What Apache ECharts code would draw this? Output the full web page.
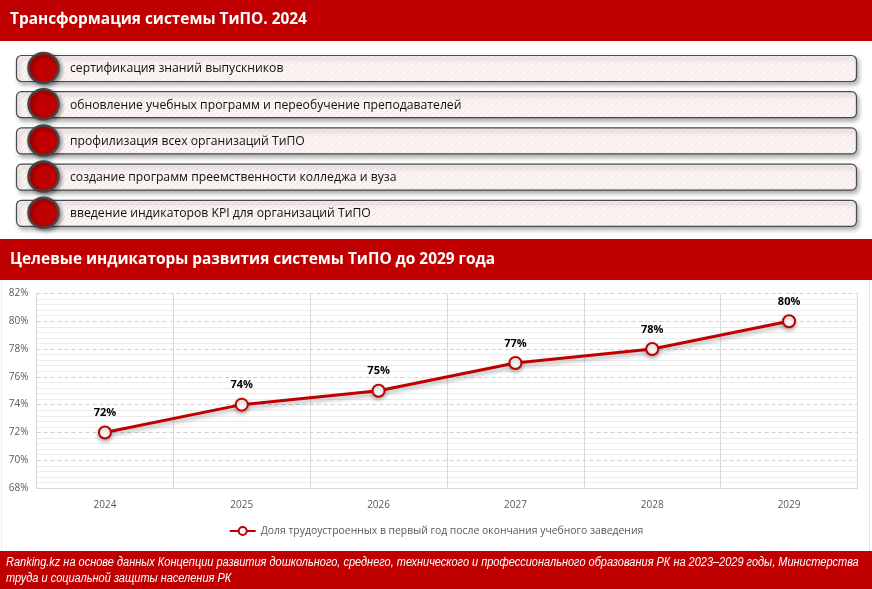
<!DOCTYPE html>
<html><head><meta charset="utf-8">
<script src="https://cdn.jsdelivr.net/npm/echarts@6/dist/echarts.min.js"></script>
<style>html,body{margin:0;padding:0;background:#fff}#c{width:872px;height:589px}</style>
</head><body><div id="c"></div>
<script>
const title1 = 'Трансформация системы ТиПО. 2024';
const title2 = 'Целевые индикаторы развития системы ТиПО до 2029 года';
const listItems = [
  'сертификация знаний выпускников',
  'обновление учебных программ и переобучение преподавателей',
  'профилизация всех организаций ТиПО',
  'создание программ преемственности колледжа и вуза',
  'введение индикаторов KPI для организаций ТиПО'
];
const years = ['2024', '2025', '2026', '2027', '2028', '2029'];
const values = [72, 74, 75, 77, 78, 80];
const seriesName = 'Доля трудоустроенных в первый год после окончания учебного заведения';
const sourceLines = [
  'Ranking.kz на основе данных Концепции развития дошкольного, среднего, технического и профессионального образования РК на 2023–2029 годы, Министерства',
  'труда и социальной защиты населения РК'
];

const RED = '#C00000';

// hatch pattern
const pc = document.createElement('canvas');
pc.width = 6; pc.height = 6;
const pctx = pc.getContext('2d');
pctx.fillStyle = '#fcf3f3';
pctx.fillRect(0, 0, 6, 6);
pctx.strokeStyle = '#f7e2e2';
pctx.lineWidth = 1;
pctx.beginPath();
pctx.moveTo(0, 6); pctx.lineTo(6, 0);
pctx.moveTo(-3, 3); pctx.lineTo(3, -3);
pctx.moveTo(3, 9); pctx.lineTo(9, 3);
pctx.stroke();

const graphics = [];
// headers
graphics.push({type: 'rect', shape: {x: 0, y: 0, width: 872, height: 41}, style: {fill: RED}, silent: true});
graphics.push({type: 'text', x: 10, y: 20, style: {text: title1, fill: '#fff', font: 'bold 15.4px "Open Sans", sans-serif', verticalAlign: 'middle'}});
graphics.push({type: 'rect', shape: {x: 0, y: 239, width: 872, height: 41}, style: {fill: RED}, silent: true});
graphics.push({type: 'text', x: 10, y: 260, style: {text: title2, fill: '#fff', font: 'bold 15.4px "Open Sans", sans-serif', verticalAlign: 'middle'}});
// footer
graphics.push({type: 'rect', shape: {x: 0, y: 551, width: 872, height: 38}, style: {fill: RED}, silent: true});
sourceLines.forEach((t, i) => {
  graphics.push({type: 'text', x: 6, y: 563 + i * 15.5, scaleX: 0.915, style: {text: t, fill: '#fff', font: 'italic 12px "Liberation Sans", sans-serif', verticalAlign: 'middle'}});
});
// list
listItems.forEach((t, i) => {
  const y = 55 + i * 36.2;
  graphics.push({type: 'rect', z: 10, shape: {x: 16.5, y: y + 0.5, width: 840, height: 26, r: 5},
    style: {fill: {image: pc, repeat: 'repeat'}, stroke: '#4a4a4a', lineWidth: 1.2, shadowBlur: 4, shadowOffsetX: 2, shadowOffsetY: 3, shadowColor: 'rgba(0,0,0,0.3)'}});
  graphics.push({type: 'circle', z: 11, shape: {cx: 43.5, cy: y + 13, r: 15},
    style: {fill: RED, stroke: '#444', lineWidth: 2.5, shadowBlur: 4, shadowOffsetX: 2, shadowOffsetY: 2, shadowColor: 'rgba(0,0,0,0.4)'}});
  graphics.push({type: 'text', z: 12, x: 70, y: y + 14, style: {text: t, fill: '#111', font: '12.2px "Open Sans", sans-serif', verticalAlign: 'middle'}});
});
// faint frame
graphics.push({type: 'line', shape: {x1: 869.5, y1: 280, x2: 869.5, y2: 551}, style: {stroke: '#e0e0e0', lineWidth: 1}});
graphics.push({type: 'line', shape: {x1: 1.5, y1: 280, x2: 1.5, y2: 551}, style: {stroke: '#eeeeee', lineWidth: 1}});

const chart = echarts.init(document.getElementById('c'), null, {renderer: 'canvas'});
chart.setOption({
  animation: false,
  backgroundColor: '#fff',
  textStyle: {fontFamily: '"Open Sans", sans-serif'},
  graphic: graphics,
  grid: {left: 36.5, right: 14.5, top: 293.5, bottom: 101, containLabel: false},
  xAxis: {
    type: 'category', data: years, boundaryGap: true,
    axisLine: {show: true, lineStyle: {color: '#d9d9d9'}},
    axisTick: {show: false},
    axisLabel: {color: '#595959', fontSize: 10, margin: 12},
    splitLine: {show: true, interval: 0, lineStyle: {color: '#d9d9d9'}}
  },
  yAxis: {
    type: 'value', min: 68, max: 82, interval: 2,
    axisLine: {show: true, lineStyle: {color: '#d9d9d9'}},
    axisTick: {show: false},
    axisLabel: {color: '#595959', fontSize: 10, margin: 8, formatter: '{value}%'},
    splitLine: {show: true, lineStyle: {color: '#d0d0d0', type: [4, 3]}},
    minorTick: {show: false, splitNumber: 5},
    minorSplitLine: {show: true, lineStyle: {color: '#ececec'}}
  },
  legend: {
    show: true, bottom: 48, left: 'center', itemWidth: 26, itemHeight: 10, itemGap: 4,
    textStyle: {color: '#595959', fontSize: 10.4},
    data: [seriesName]
  },
  series: [{
    name: seriesName, type: 'line', data: values,
    symbol: 'circle', symbolSize: 12,
    lineStyle: {color: RED, width: 3, shadowColor: 'rgba(0,0,0,0.3)', shadowBlur: 4, shadowOffsetY: 3},
    itemStyle: {color: '#fff', borderColor: RED, borderWidth: 2, shadowColor: 'rgba(0,0,0,0.3)', shadowBlur: 4, shadowOffsetY: 2},
    label: {show: true, position: 'top', distance: 7, formatter: '{c}%', color: '#000', fontWeight: 'bold', fontSize: 11}
  }]
});
</script></body></html>
